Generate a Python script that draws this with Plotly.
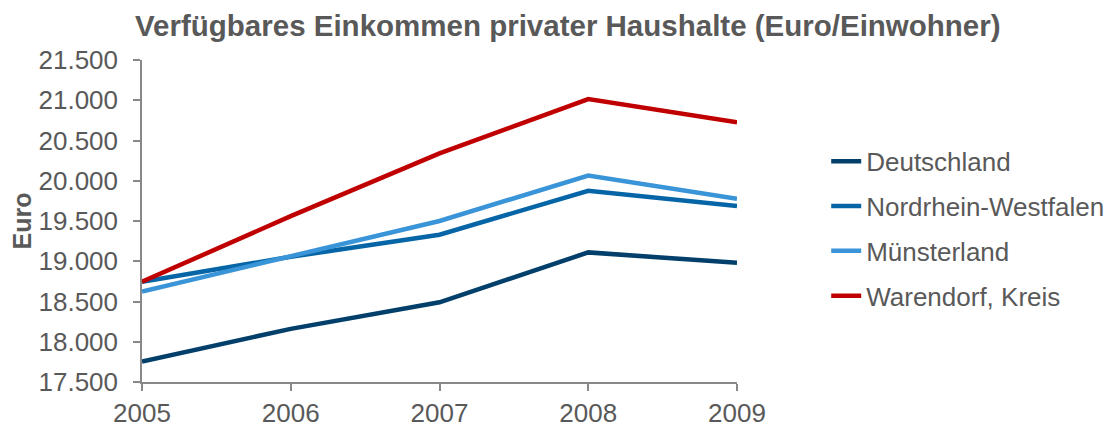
import plotly.graph_objects as go

# Verfügbares Einkommen privater Haushalte, Euro je Einwohner
jahre = [2005, 2006, 2007, 2008, 2009]
deutschland = [17755, 18160, 18490, 19110, 18980]
nrw = [18745, 19055, 19330, 19875, 19685]
muensterland = [18625, 19060, 19500, 20065, 19775]
warendorf = [18745, 19560, 20340, 21015, 20725]

serien = [
    ("Deutschland", deutschland, "#023f6b"),
    ("Nordrhein-Westfalen", nrw, "#0565a6"),
    ("Münsterland", muensterland, "#3a94d8"),
    ("Warendorf, Kreis", warendorf, "#c00000"),
]

y_ticks = [17500, 18000, 18500, 19000, 19500, 20000, 20500, 21000, 21500]
y_ticktext = ["17.500", "18.000", "18.500", "19.000", "19.500",
              "20.000", "20.500", "21.000", "21.500"]

grau = "#595959"
achse = "#888888"
schrift = "Liberation Sans, Arial, sans-serif"

fig = go.Figure()
for i, (name, werte, farbe) in enumerate(serien):
    fig.add_trace(go.Scatter(
        x=jahre, y=werte, name=name, mode="lines",
        line=dict(color=farbe, width=4.5),
        legendgroup=f"g{i}",
    ))

fig.update_layout(
    width=1109, height=427,
    margin=dict(l=142, r=372, t=60, b=45, autoexpand=False),
    paper_bgcolor="white", plot_bgcolor="white",
    font=dict(family=schrift, size=24, color=grau),
    title=dict(
        text="<b>Verfügbares Einkommen privater Haushalte (Euro/Einwohner)</b>",
        x=0.512, xanchor="center", y=0.94, yanchor="middle",
        font=dict(family=schrift, size=29.5, color=grau),
    ),
    showlegend=True,
    legend=dict(
        xref="container", yref="container",
        x=0.745, xanchor="left", y=0.464, yanchor="middle",
        font=dict(family=schrift, size=26, color=grau),
        tracegroupgap=8, itemwidth=30,
        bgcolor="rgba(0,0,0,0)",
    ),
    xaxis=dict(
        range=[2005, 2009], tickmode="array", tickvals=jahre,
        ticktext=[str(j) for j in jahre],
        showgrid=False, zeroline=False, automargin=False,
        showline=True, linecolor=achse, linewidth=1.5,
        ticks="outside", ticklen=7, tickcolor=achse, tickwidth=1.5,
        tickfont=dict(size=26, color=grau),
    ),
    yaxis=dict(
        range=[17500, 21500], tickmode="array", tickvals=y_ticks,
        ticktext=y_ticktext,
        showgrid=False, zeroline=False, automargin=False,
        showline=True, linecolor=achse, linewidth=1.5,
        ticks="outside", ticklen=7, tickcolor=achse, tickwidth=1.5,
        ticklabelstandoff=10,
        tickfont=dict(size=26, color=grau),
        title=dict(text="<b>Euro</b>", font=dict(size=25, color=grau), standoff=0),
    ),
)

fig.write_html("out.html")
